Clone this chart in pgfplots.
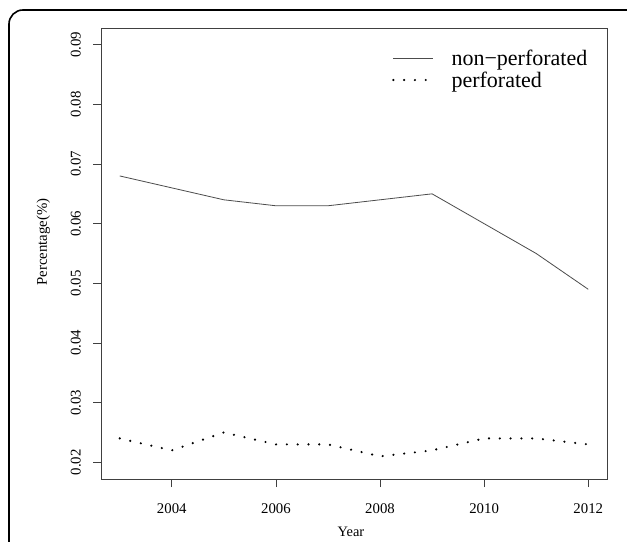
\documentclass[border=0pt]{standalone}
\usepackage{pgfplots}
\pgfplotsset{compat=1.18}
\usepackage{fontspec}
\setmainfont{Liberation Serif}
\begin{document}
\begin{tikzpicture}
\useasboundingbox (0bp,0bp) rectangle (627bp,542bp);
\fill[white] (0bp,0bp) rectangle (627bp,542bp);
\draw[line width=1.6bp, rounded corners=14bp] (9bp,-30bp) -- (9bp,532bp) -- (660bp,532bp);
\begin{axis}[
  at={(101bp,63bp)}, anchor=south west,
  width=506bp, height=451bp, scale only axis,
  xmin=2002.64, xmax=2012.36,
  ymin=0.0172, ymax=0.0928,
  xtick={2004,2006,2008,2010,2012},
  ytick={0.02,0.03,0.04,0.05,0.06,0.07,0.08,0.09},
  scaled y ticks=false,
  xtick pos=bottom, ytick pos=left,
  tick align=outside, major tick length=8bp,
  axis line style={black!75, line width=0.8bp},
  every tick/.style={black!75, line width=0.8bp},
  /pgf/number format/assume math mode=true,
  xticklabel style={/pgf/number format/1000 sep={}, font=\fontsize{14.8bp}{17bp}\selectfont, inner sep=0pt, anchor=north, yshift=-16bp},
  yticklabel style={/pgf/number format/fixed, /pgf/number format/fixed zerofill, /pgf/number format/precision=2, font=\fontsize{14.8bp}{17bp}\selectfont, inner sep=0pt, rotate=90, anchor=south},
  yticklabel shift=12bp,
  xlabel={Year},
  ylabel={Percentage(\%)},
  xlabel style={at={(axis description cs:0.4941,-0.1264)}, anchor=base, inner sep=0pt, font=\fontsize{14.4bp}{17bp}\selectfont},
  ylabel style={at={(axis description cs:-0.1068,0.5255)}, anchor=base, inner sep=0pt, font=\fontsize{14.8bp}{17bp}\selectfont},
  legend style={draw=none, fill=none, at={(axis description cs:0.575,0.957)}, anchor=north west, font=\fontsize{22bp}{26bp}\selectfont, row sep=1bp, inner sep=0pt, cells={anchor=west},
    /tikz/every odd column/.append style={column sep=15bp}},
  legend image code/.code={\draw[#1] (0bp,0bp) -- (40bp,0bp);},
  legend cell align=left,
]
\addplot[black!70, line width=0.8bp] coordinates {
(2003,0.068) (2004,0.066) (2005,0.064) (2006,0.063) (2007,0.063)
(2008,0.064) (2009,0.065) (2010,0.060) (2011,0.055) (2012,0.049)};
\addlegendentry{non−perforated}
\addplot[black, line width=2.4bp, line cap=round, dash pattern=on 0bp off 10.8bp] coordinates {
(2003,0.024) (2004,0.022) (2005,0.025) (2006,0.023) (2007,0.023)
(2008,0.021) (2009,0.022) (2010,0.024) (2011,0.024) (2012,0.023)};
\addlegendentry{perforated}
\end{axis}
\end{tikzpicture}
\end{document}
